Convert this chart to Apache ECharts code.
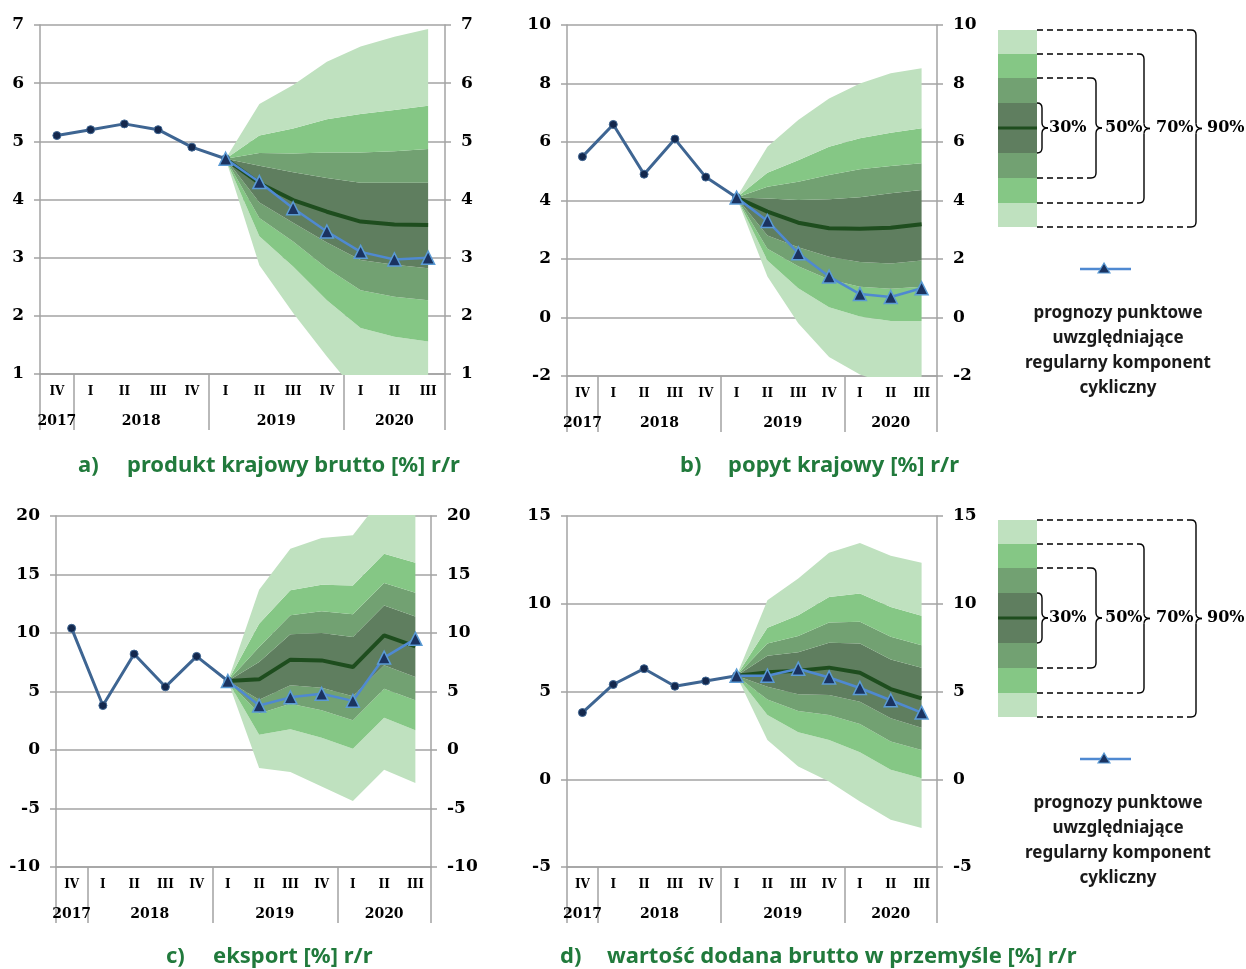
<!DOCTYPE html>
<html>
<head>
<meta charset="utf-8">
<script src="https://cdn.jsdelivr.net/npm/echarts@6/dist/echarts.min.js"></script>
<style>
  html, body { margin: 0; padding: 0; background: #fff; }
  #chart { width: 1246px; height: 969px; }
</style>
</head>
<body>
<div id="chart"></div>
<script>
// Oś X: kwartały i lata
const kwartaly = ['IV', 'I', 'II', 'III', 'IV', 'I', 'II', 'III', 'IV', 'I', 'II', 'III'];
const lata = ['2017', '2018', '2019', '2020'];
const kwartalowWRoku = [1, 4, 4, 3];

// a) produkt krajowy brutto
const pkbDane    = [5.1, 5.2, 5.3, 5.2, 4.9, 4.7];
const pkbPunkt   = [4.7, 4.3, 3.85, 3.45, 3.1, 2.97, 3.0];
const pkbCentr   = [4.7, 4.28, 3.99, 3.79, 3.62, 3.57, 3.56];
const pkbDol90   = [4.7, 2.87, 2.05, 1.3, 0.6, 0.4, 0.3];
const pkbDol70   = [4.7, 3.37, 2.85, 2.27, 1.79, 1.64, 1.56];
const pkbDol50   = [4.7, 3.68, 3.28, 2.82, 2.44, 2.33, 2.27];
const pkbDol30   = [4.7, 3.95, 3.6, 3.26, 2.96, 2.88, 2.82];
const pkbGora30  = [4.7, 4.58, 4.47, 4.37, 4.29, 4.29, 4.29];
const pkbGora50  = [4.7, 4.8, 4.79, 4.81, 4.81, 4.83, 4.87];
const pkbGora70  = [4.7, 5.1, 5.22, 5.38, 5.47, 5.54, 5.61];
const pkbGora90  = [4.7, 5.64, 5.97, 6.37, 6.63, 6.8, 6.93];

// b) popyt krajowy
const popDane    = [5.5, 6.6, 4.9, 6.1, 4.8, 4.1];
const popPunkt   = [4.1, 3.3, 2.2, 1.4, 0.8, 0.7, 1.0];
const popCentr   = [4.1, 3.62, 3.24, 3.05, 3.03, 3.07, 3.19];
const popDol90   = [4.1, 1.4, -0.2, -1.35, -1.95, -2.3, -2.5];
const popDol70   = [4.1, 1.95, 1.0, 0.35, 0.03, -0.12, -0.12];
const popDol50   = [4.1, 2.35, 1.75, 1.3, 1.05, 0.98, 1.05];
const popDol30   = [4.1, 2.8, 2.4, 2.08, 1.9, 1.85, 1.95];
const popGora30  = [4.1, 4.07, 4.02, 4.04, 4.11, 4.25, 4.36];
const popGora50  = [4.1, 4.47, 4.64, 4.87, 5.07, 5.18, 5.27];
const popGora70  = [4.1, 4.95, 5.38, 5.84, 6.13, 6.32, 6.47];
const popGora90  = [4.1, 5.84, 6.75, 7.49, 8.0, 8.35, 8.52];

// c) eksport
const ekspDane   = [10.4, 3.8, 8.2, 5.4, 8.0, 5.9];
const ekspPunkt  = [5.9, 3.8, 4.5, 4.8, 4.2, 7.9, 9.5];
const ekspCentr  = [5.9, 6.04, 7.72, 7.66, 7.09, 9.8, 8.86];
const ekspDol90  = [5.9, -1.54, -1.88, -3.11, -4.36, -1.68, -2.82];
const ekspDol70  = [5.9, 1.31, 1.77, 1.05, 0.11, 2.76, 1.68];
const ekspDol50  = [5.9, 3.11, 3.96, 3.39, 2.54, 5.24, 4.25];
const ekspDol30  = [5.9, 4.3, 5.53, 5.33, 4.59, 7.24, 6.24];
const ekspGora30 = [5.9, 7.52, 9.89, 10.0, 9.66, 12.36, 11.42];
const ekspGora50 = [5.9, 8.8, 11.51, 11.85, 11.6, 14.27, 13.45];
const ekspGora70 = [5.9, 10.8, 13.65, 14.13, 14.07, 16.78, 16.01];
const ekspGora90 = [5.9, 13.7, 17.21, 18.12, 18.35, 21.8, 21.5];

// d) wartość dodana brutto w przemyśle
const przDane    = [3.8, 5.4, 6.3, 5.3, 5.6, 5.9];
const przPunkt   = [5.9, 5.9, 6.3, 5.8, 5.2, 4.5, 3.8];
const przCentr   = [5.9, 6.09, 6.18, 6.36, 6.07, 5.14, 4.61];
const przDol90   = [5.9, 2.24, 0.73, -0.13, -1.27, -2.31, -2.78];
const przDol70   = [5.9, 3.66, 2.68, 2.24, 1.54, 0.54, 0.06];
const przDol50   = [5.9, 4.55, 3.89, 3.66, 3.15, 2.15, 1.67];
const przDol30   = [5.9, 5.27, 4.84, 4.8, 4.42, 3.47, 2.94];
const przGora30  = [5.9, 7.04, 7.23, 7.78, 7.74, 6.83, 6.36];
const przGora50  = [5.9, 7.74, 8.16, 8.93, 8.97, 8.12, 7.64];
const przGora70  = [5.9, 8.63, 9.35, 10.39, 10.58, 9.82, 9.31];
const przGora90  = [5.9, 10.2, 11.44, 12.91, 13.46, 12.73, 12.33];

// Legenda
const przedzialy = ['30%', '50%', '70%', '90%'];
const opisPunktowe = 'prognozy punktowe\nuwzględniające\nregularny komponent\ncykliczny';

const n = kwartaly.length;
const naPoczatku = arr => arr.concat(Array(n - arr.length).fill('-'));
const naKoncu = arr => Array(n - arr.length).fill('-').concat(arr);

const panele = [
  { litera: 'a)', tytul: 'produkt krajowy brutto [%] r/r', min: 1, max: 7, krok: 1,
    dane: pkbDane, punkt: pkbPunkt, centr: pkbCentr,
    pasma: [pkbDol90, pkbDol70, pkbDol50, pkbDol30, pkbGora30, pkbGora50, pkbGora70, pkbGora90],
    grid: { left: 40, top: 25, width: 405, height: 349 }, tx: 78, tx2: 127, ty: 466 },
  { litera: 'b)', tytul: 'popyt krajowy [%] r/r', min: -2, max: 10, krok: 2,
    dane: popDane, punkt: popPunkt, centr: popCentr,
    pasma: [popDol90, popDol70, popDol50, popDol30, popGora30, popGora50, popGora70, popGora90],
    grid: { left: 567, top: 25, width: 370, height: 351 }, tx: 680, tx2: 728, ty: 466 },
  { litera: 'c)', tytul: 'eksport [%] r/r', min: -10, max: 20, krok: 5,
    dane: ekspDane, punkt: ekspPunkt, centr: ekspCentr,
    pasma: [ekspDol90, ekspDol70, ekspDol50, ekspDol30, ekspGora30, ekspGora50, ekspGora70, ekspGora90],
    grid: { left: 56, top: 516, width: 375, height: 351 }, tx: 166, tx2: 213, ty: 957 },
  { litera: 'd)', tytul: 'wartość dodana brutto w przemyśle [%] r/r', min: -5, max: 15, krok: 5,
    dane: przDane, punkt: przPunkt, centr: przCentr,
    pasma: [przDol90, przDol70, przDol50, przDol30, przGora30, przGora50, przGora70, przGora90],
    grid: { left: 567, top: 516, width: 370, height: 351 }, tx: 560, tx2: 607, ty: 957 }
];

// granice i środki lat na skali 0..12
const granice = [0];
kwartalowWRoku.forEach(k => granice.push(granice[granice.length - 1] + k));
const srodki = kwartalowWRoku.map((k, i) => granice[i] + k / 2);

const kolorySzare = '#a3a3a3';
const kolorPasm = ['#bfe1bf', '#85c785', '#72a172', '#5f7e5f', '#72a172', '#85c785', '#bfe1bf'];
const fontSerif = 'DejaVu Serif';

const grids = [], xAxes = [], yAxes = [], series = [], graphic = [];

panele.forEach((p, i) => {
  grids.push(p.grid);

  xAxes.push({
    gridIndex: i, type: 'category', data: kwartaly, boundaryGap: true, position: 'bottom',
    axisLine: { onZero: false, lineStyle: { color: kolorySzare, width: 1.5 } },
    axisTick: { interval: 0, length: 28, lineStyle: { color: kolorySzare, width: 1.5 } },
    axisLabel: { interval: 0, margin: 12, color: '#000', fontFamily: fontSerif, fontWeight: 'bold', fontSize: 12 }
  });
  xAxes.push({
    gridIndex: i, type: 'value', min: 0, max: n, position: 'bottom',
    axisLine: { show: false, onZero: false },
    splitLine: { show: false },
    axisTick: { show: true, customValues: granice, length: 56, lineStyle: { color: kolorySzare, width: 1.5 } },
    axisLabel: {
      customValues: srodki, margin: 40, color: '#000', fontFamily: fontSerif, fontWeight: 'bold', fontSize: 14,
      formatter: v => { const k = srodki.indexOf(v); return k >= 0 ? lata[k] : ''; }
    }
  });

  const osY = pos => ({
    gridIndex: i, type: 'value', position: pos, min: p.min, max: p.max, interval: p.krok,
    axisLine: { show: true, onZero: false, lineStyle: { color: kolorySzare, width: 1.5 } },
    axisTick: { show: true, length: 6, lineStyle: { color: kolorySzare, width: 1.5 } },
    splitLine: { show: pos === 'left', lineStyle: { color: kolorySzare, width: 1.5 } },
    axisLabel: { margin: 16, color: '#000', fontFamily: fontSerif, fontWeight: 'bold', fontSize: 17 }
  });
  yAxes.push(osY('left'), osY('right'));

  const xi = 2 * i, yi = 2 * i;
  // pasma wachlarza (stos od dolnej granicy 90%)
  series.push({
    type: 'line', xAxisIndex: xi, yAxisIndex: yi, stack: 'fan' + i, stackStrategy: 'all',
    data: naKoncu(p.pasma[0]), symbol: 'none', silent: true, lineStyle: { opacity: 0 }
  });
  for (let k = 1; k < p.pasma.length; k++) {
    const roznica = p.pasma[k].map((v, j) => +(v - p.pasma[k - 1][j]).toFixed(3));
    series.push({
      type: 'line', xAxisIndex: xi, yAxisIndex: yi, stack: 'fan' + i, stackStrategy: 'all',
      data: naKoncu(roznica), symbol: 'none', silent: true,
      lineStyle: { opacity: 0 }, areaStyle: { color: kolorPasm[k - 1], opacity: 1 }
    });
  }
  // ścieżka centralna
  series.push({
    type: 'line', xAxisIndex: xi, yAxisIndex: yi, data: naKoncu(p.centr), symbol: 'none',
    lineStyle: { color: '#1e4d1e', width: 4 }
  });
  // dane historyczne
  series.push({
    type: 'line', xAxisIndex: xi, yAxisIndex: yi, data: naPoczatku(p.dane),
    symbol: 'circle', symbolSize: 8,
    lineStyle: { color: '#3e6592', width: 3 },
    itemStyle: { color: '#14284d', borderColor: '#3e6592', borderWidth: 1 }
  });
  // prognozy punktowe
  series.push({
    type: 'line', xAxisIndex: xi, yAxisIndex: yi, data: naKoncu(p.punkt),
    symbol: 'triangle', symbolSize: 13,
    lineStyle: { color: '#4f89d1', width: 2.5 },
    itemStyle: { color: '#1b3360', borderColor: '#5b9bd5', borderWidth: 1.5 }
  });

  // tytuły paneli
  const styl = { fill: '#217a3c', fontFamily: 'Noto Sans', fontWeight: 'bold', fontSize: 22, textVerticalAlign: 'middle' };
  graphic.push({ type: 'text', style: Object.assign({ text: p.litera, x: p.tx, y: p.ty }, styl) });
  graphic.push({ type: 'text', style: Object.assign({ text: p.tytul, x: p.tx2, y: p.ty }, styl) });
});

// legenda wachlarza
function klamra(x, yTop, yBot, tip) {
  const r = 5, yMid = (yTop + yBot) / 2, st = { stroke: '#000', lineWidth: 1.4, fill: null };
  return [
    { type: 'bezierCurve', shape: { x1: x - r, y1: yTop, cpx1: x, cpy1: yTop, x2: x, y2: yTop + r }, style: st },
    { type: 'line', shape: { x1: x, y1: yTop + r, x2: x, y2: yMid - r }, style: st },
    { type: 'bezierCurve', shape: { x1: x, y1: yMid - r, cpx1: x, cpy1: yMid, x2: x + tip, y2: yMid }, style: st },
    { type: 'bezierCurve', shape: { x1: x + tip, y1: yMid, cpx1: x, cpy1: yMid, x2: x, y2: yMid + r }, style: st },
    { type: 'line', shape: { x1: x, y1: yMid + r, x2: x, y2: yBot - r }, style: st },
    { type: 'bezierCurve', shape: { x1: x, y1: yBot - r, cpx1: x, cpy1: yBot, x2: x - r, y2: yBot }, style: st }
  ];
}

function legenda(y0) {
  const x0 = 998, w = 39, xr = x0 + w;
  const kraw = [0, 24, 48, 73, 98, 123, 148, 173, 197];
  const kol = ['#bfe1bf', '#85c785', '#72a172', '#5f7e5f', '#5f7e5f', '#72a172', '#85c785', '#bfe1bf'];
  const els = [];
  for (let k = 0; k < 8; k++) {
    els.push({ type: 'rect', shape: { x: x0, y: y0 + kraw[k], width: w, height: kraw[k + 1] - kraw[k] }, style: { fill: kol[k] } });
  }
  els.push({ type: 'line', shape: { x1: x0, y1: y0 + 98, x2: xr, y2: y0 + 98 }, style: { stroke: '#1e4d1e', lineWidth: 3 } });

  const dash = { stroke: '#000', lineWidth: 1.5, lineDash: [6, 4] };
  // [pozycja klamry, górna krawędź, dolna krawędź, x etykiety]
  const klamry = [[1042, 73, 123, 1049], [1096, 48, 148, 1105], [1144, 24, 173, 1156], [1196, 0, 197, 1207]];
  klamry.forEach((kl, k) => {
    const [x, a, b, lx] = kl;
    if (k > 0) {
      els.push({ type: 'line', shape: { x1: xr, y1: y0 + a, x2: x - 5, y2: y0 + a }, style: dash });
      els.push({ type: 'line', shape: { x1: xr, y1: y0 + b, x2: x - 5, y2: y0 + b }, style: dash });
    }
    els.push(...klamra(x, y0 + a, y0 + b, 6));
    els.push({ type: 'text', style: { text: przedzialy[k], x: lx, y: y0 + 98, fontFamily: 'DejaVu Serif', fontWeight: 'bold', fontSize: 16, fill: '#000', textVerticalAlign: 'middle' } });
  });

  const yl = y0 + 239;
  els.push({ type: 'line', shape: { x1: 1080, y1: yl, x2: 1131, y2: yl }, style: { stroke: '#4f89d1', lineWidth: 2.5 } });
  els.push({ type: 'polygon', shape: { points: [[1104, yl - 6], [1098, yl + 4], [1110, yl + 4]] }, style: { fill: '#1b3360', stroke: '#5b9bd5', lineWidth: 1.2 } });
  els.push({ type: 'text', style: { text: opisPunktowe, x: 1118, y: y0 + 271, fontFamily: 'Noto Sans', fontWeight: 'bold', fontSize: 17, fill: '#1a1a1a', textAlign: 'center', lineHeight: 25 } });
  return els;
}

graphic.push(...legenda(30), ...legenda(520));

const chart = echarts.init(document.getElementById('chart'));
chart.setOption({
  animation: false,
  backgroundColor: '#fff',
  grid: grids,
  xAxis: xAxes,
  yAxis: yAxes,
  series: series,
  graphic: graphic
});
</script>
</body>
</html>
